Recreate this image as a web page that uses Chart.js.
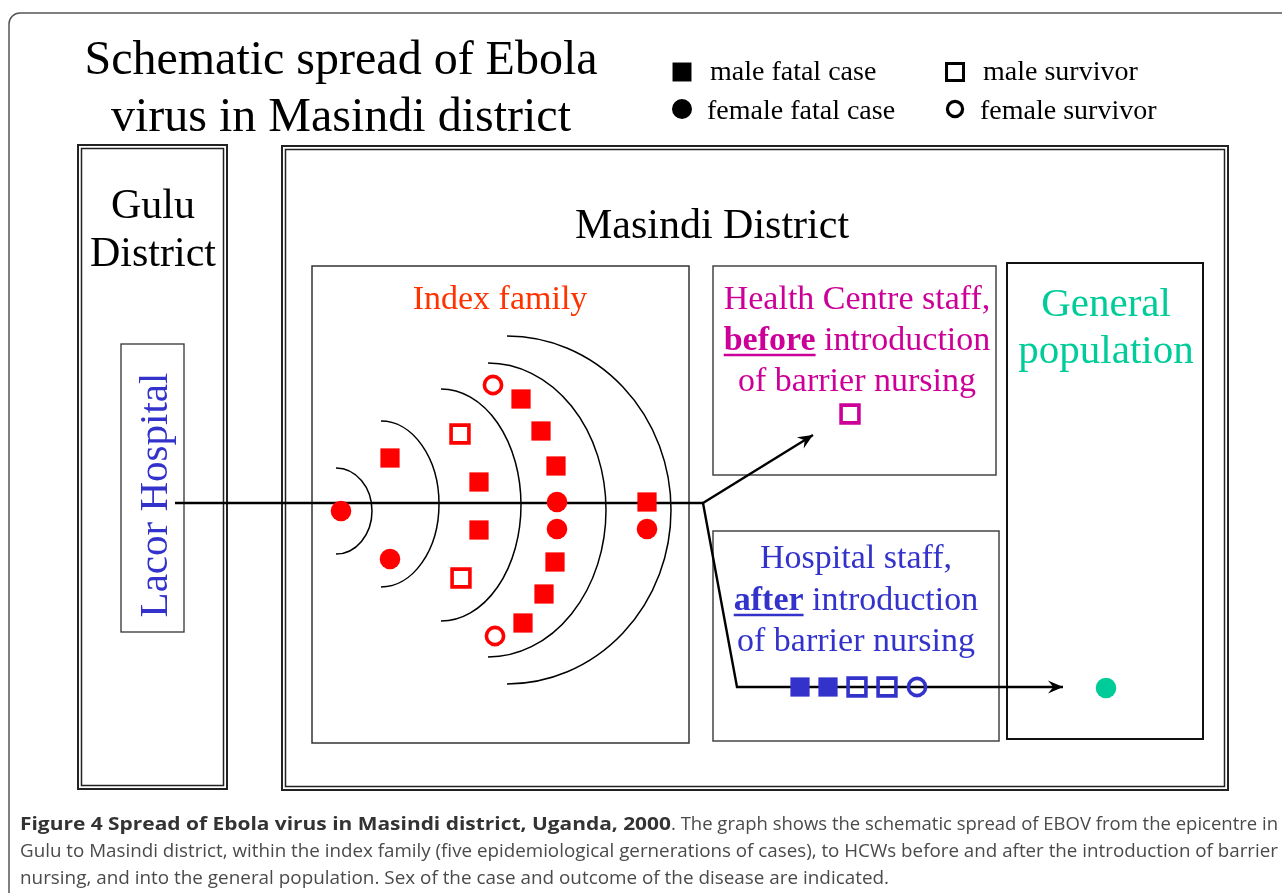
<!DOCTYPE html>
<html><head><meta charset="utf-8">
<script src="https://cdn.jsdelivr.net/npm/chart.js@4/dist/chart.umd.min.js"></script>
<style>html,body{margin:0;padding:0;background:#fff;overflow:hidden}canvas{display:block}</style>
</head><body>
<canvas id="c" width="1282" height="893" style="width:1282px;height:893px"></canvas>
<script>
// ---------- DATA (schematic diagram units) ----------
// Index family cases (five epidemiological generations)
const indexMaleFatal = [{x:390,y:458},{x:479,y:482},{x:479,y:530},{x:521,y:399},{x:541,y:431},{x:556,y:466},{x:555,y:562},{x:544,y:594},{x:523,y:623},{x:647,y:502}];
const indexFemaleFatal = [{x:341,y:511},{x:390,y:559},{x:557,y:502},{x:557,y:529},{x:647,y:529}];
const indexMaleSurvivor = [{x:460,y:434},{x:461,y:578}];
const indexFemaleSurvivor = [{x:493,y:385},{x:495,y:636}];
// Health centre staff before barrier nursing
const healthCentreMaleSurvivor = [{x:850,y:414}];
// Hospital staff after barrier nursing
const hospitalMaleFatal = [{x:800,y:687},{x:828,y:687}];
const hospitalMaleSurvivor = [{x:857,y:687},{x:887,y:687}];
const hospitalFemaleSurvivor = [{x:917,y:687}];
// General population
const generalFemaleFatal = [{x:1106,y:688}];
// Legend symbols
const legendLabels = ['male fatal case','female fatal case','male survivor','female survivor'];
const legendSymbols = [{x:682,y:72},{x:682,y:109},{x:955,y:72},{x:955,y:109}];
// Transmission paths
const pathGuluToFamily = [{x:175,y:503},{x:703,y:503}];
const pathToHealthCentre = [{x:703,y:503},{x:813,y:435}];
const pathToHospitalAndPopulation = [{x:703,y:503},{x:737,y:687},{x:1063,y:687}];
// Generation arcs: centre x, centre y, horizontal radius, vertical radius
const generationArcs = [[336,511,36,43],[381,504,58,83],[441,505,80,116],[488,510,118,147],[507,510,164,174]];

// ---------- STYLE ----------
const RED='#ff0000', MAG='#cc0099', BLUE='#3333cc', GREEN='#00cc99';
const SERIF='"Liberation Serif","Times New Roman",serif';

function filledSq(data,color,lbl){return {label:lbl,data,pointStyle:'rect',pointRadius:13.6,backgroundColor:color,borderColor:color,borderWidth:0,showLine:false};}
function filledCirc(data,color,lbl){return {label:lbl,data,pointStyle:'circle',pointRadius:10.3,backgroundColor:color,borderColor:color,borderWidth:0,showLine:false};}
function openSq(data,color,lbl){return {label:lbl,data,pointStyle:'rect',pointRadius:12.6,backgroundColor:'rgba(0,0,0,0)',borderColor:color,borderWidth:3.6,showLine:false};}
function openCirc(data,color,lbl){return {label:lbl,data,pointStyle:'circle',pointRadius:8.6,backgroundColor:'rgba(0,0,0,0)',borderColor:color,borderWidth:3.6,showLine:false};}
function path(data){return {type:'line',data,showLine:true,pointRadius:0,borderColor:'#000',borderWidth:2.6,tension:0,fill:false,order:10,isPath:true};}

const datasets=[
  filledSq(indexMaleFatal,RED,'index male fatal'),
  filledCirc(indexFemaleFatal,RED,'index female fatal'),
  openSq(indexMaleSurvivor,RED,'index male survivor'),
  openCirc(indexFemaleSurvivor,RED,'index female survivor'),
  openSq(healthCentreMaleSurvivor,MAG,'HC male survivor'),
  filledSq(hospitalMaleFatal,BLUE,'hospital male fatal'),
  openSq(hospitalMaleSurvivor,BLUE,'hospital male survivor'),
  openCirc(hospitalFemaleSurvivor,BLUE,'hospital female survivor'),
  filledCirc(generalFemaleFatal,GREEN,'general female fatal'),
  Object.assign(filledSq([legendSymbols[0]],'#000','legend1'),{pointRadius:13.4}),
  Object.assign(filledCirc([legendSymbols[1]],'#000','legend2'),{pointRadius:10}),
  Object.assign(openSq([legendSymbols[2]],'#000','legend3'),{pointRadius:12,borderWidth:3}),
  Object.assign(openCirc([legendSymbols[3]],'#000','legend4'),{pointRadius:7.6,borderWidth:3.2}),
  path(pathGuluToFamily),
  Object.assign(path(pathToHealthCentre),{arrow:true,borderWidth:2.4}),
  Object.assign(path(pathToHospitalAndPopulation),{arrow:true,borderWidth:2.4})
];

const diagramPlugin={
  id:'diagram',
  beforeDatasetsDraw(chart){
    const ctx=chart.ctx, X=v=>chart.scales.x.getPixelForValue(v), Y=v=>chart.scales.y.getPixelForValue(v);
    ctx.save();
    // outer rounded frame
    ctx.strokeStyle='#555'; ctx.lineWidth=1.5;
    ctx.beginPath(); ctx.roundRect(X(9),Y(13),X(1300)-X(9),Y(910)-Y(13),11); ctx.stroke();
    // title
    ctx.fillStyle='#000'; ctx.textAlign='center'; ctx.textBaseline='alphabetic';
    ctx.font='48px '+SERIF;
    ctx.fillText('Schematic spread of Ebola',X(341),Y(74));
    ctx.fillText('virus in Masindi district',X(341),Y(131));
    // legend labels
    ctx.font='28px '+SERIF; ctx.textAlign='left';
    ctx.fillText(legendLabels[0],X(710),Y(80));
    ctx.fillText(legendLabels[1],X(707),Y(119));
    ctx.fillText(legendLabels[2],X(983),Y(80));
    ctx.fillText(legendLabels[3],X(980),Y(119));
    // boxes
    const rect=(x1,y1,x2,y2,lw,col)=>{ctx.strokeStyle=col;ctx.lineWidth=lw;ctx.strokeRect(X(x1),Y(y1),X(x2)-X(x1),Y(y2)-Y(y1));};
    const dbl=(x1,y1,x2,y2)=>{rect(x1,y1,x2,y2,2,'#222');rect(x1+3.5,y1+3.5,x2-3.5,y2-3.5,1.5,'#222');};
    dbl(78,145,227,789);
    dbl(282,146,1228,790);
    rect(121,344,184,632,1.3,'#333');
    rect(312,266,689,743,1.5,'#333');
    rect(713,266,996,475,1.5,'#444');
    rect(713,531,999,741,1.5,'#444');
    rect(1007,263,1203,739,2,'#111');
    // district labels
    ctx.fillStyle='#000'; ctx.textAlign='center'; ctx.font='42px '+SERIF;
    ctx.fillText('Gulu',X(153),Y(218));
    ctx.fillText('District',X(153),Y(266));
    ctx.fillText('Masindi District',X(712),Y(238));
    // Lacor hospital (vertical)
    ctx.save(); ctx.translate(X(167),Y(495)); ctx.rotate(-Math.PI/2);
    ctx.fillStyle=BLUE; ctx.font='41px '+SERIF; ctx.textAlign='center'; ctx.fillText('Lacor Hospital',0,0); ctx.restore();
    // Index family
    ctx.fillStyle='#ff3300'; ctx.font='34px '+SERIF; ctx.fillText('Index family',X(500),Y(309));
    // General population
    ctx.fillStyle=GREEN; ctx.font='41px '+SERIF;
    ctx.fillText('General',X(1106),Y(316));
    ctx.fillText('population',X(1106),Y(363));
    // staff labels with bold underlined word
    const mixed=(bold,rest,cx,y,col)=>{
      ctx.font='bold 34px '+SERIF; const wb=ctx.measureText(bold).width;
      ctx.font='34px '+SERIF; const wr=ctx.measureText(rest).width;
      const x0=X(cx)-(wb+wr)/2;
      ctx.fillStyle=col; ctx.textAlign='left';
      ctx.font='bold 34px '+SERIF; ctx.fillText(bold,x0,Y(y));
      ctx.font='34px '+SERIF; ctx.fillText(rest,x0+wb,Y(y));
      ctx.strokeStyle=col; ctx.lineWidth=2.5; ctx.beginPath(); ctx.moveTo(x0,Y(y)+5); ctx.lineTo(x0+wb,Y(y)+5); ctx.stroke();
      ctx.textAlign='center';
    };
    ctx.textAlign='center'; ctx.font='34px '+SERIF; ctx.fillStyle=MAG;
    ctx.fillText('Health Centre staff,',X(857),Y(309));
    mixed('before',' introduction',857,350,MAG);
    ctx.font='34px '+SERIF; ctx.fillStyle=MAG; ctx.fillText('of barrier nursing',X(857),Y(391));
    ctx.font='34px '+SERIF; ctx.fillStyle=BLUE;
    ctx.fillText('Hospital staff,',X(856),Y(568));
    mixed('after',' introduction',856,610,BLUE);
    ctx.font='34px '+SERIF; ctx.fillStyle=BLUE; ctx.fillText('of barrier nursing',X(856),Y(651));
    // generation arcs
    ctx.strokeStyle='#000'; ctx.lineWidth=1.5;
    generationArcs.forEach(a=>{ctx.beginPath(); ctx.ellipse(X(a[0]),Y(a[1]),a[2],a[3],0,-Math.PI/2,Math.PI/2); ctx.stroke();});
    // caption
    drawCaption(ctx,X,Y);
    ctx.restore();
  },
  afterDatasetsDraw(chart){
    const ctx=chart.ctx;
    chart.data.datasets.forEach((ds,i)=>{
      if(!ds.arrow) return;
      const pts=chart.getDatasetMeta(i).data; const a=pts[pts.length-2], b=pts[pts.length-1];
      const ang=Math.atan2(b.y-a.y,b.x-a.x), L=15, W=6.5;
      ctx.save(); ctx.translate(b.x,b.y); ctx.rotate(ang); ctx.fillStyle='#000';
      ctx.beginPath(); ctx.moveTo(0,0); ctx.lineTo(-L,-W); ctx.lineTo(-L*0.65,0); ctx.lineTo(-L,W); ctx.closePath(); ctx.fill();
      ctx.restore();
    });
  }
};

function drawCaption(ctx,X,Y){
  const F='"Open Sans","DejaVu Sans",sans-serif';
  const regular='17.5px '+F, bold='bold 17.5px '+F;
  // each segment: font, text, colour, start x, end x
  const lines=[
    {y:830,segs:[[bold,'Figure 4 Spread of Ebola virus in Masindi district, Uganda, 2000','#333',20,671],[regular,'. The graph shows the schematic spread of EBOV from the epicentre in','#4a4a4a',671,1278]]},
    {y:857,segs:[[regular,'Gulu to Masindi district, within the index family (five epidemiological gernerations of cases), to HCWs before and after the introduction of barrier','#4a4a4a',20,1278]]},
    {y:884,segs:[[regular,'nursing, and into the general population. Sex of the case and outcome of the disease are indicated.','#4a4a4a',20,889]]}
  ];
  ctx.textAlign='left';
  lines.forEach(line=>{
    line.segs.forEach(s=>{
      ctx.font=s[0]; const w=ctx.measureText(s[1]).width; const sx=(X(s[4])-X(s[3]))/w;
      ctx.save(); ctx.translate(X(s[3]),Y(line.y)); ctx.scale(sx,1);
      ctx.fillStyle=s[2]; ctx.fillText(s[1],0,0); ctx.restore();
    });
  });
}

new Chart(document.getElementById('c'),{
  type:'scatter',
  data:{datasets},
  options:{
    responsive:false, animation:false, events:[],
    layout:{padding:0, autoPadding:false},
    scales:{x:{type:'linear',min:0,max:1282,display:false},y:{type:'linear',min:0,max:893,reverse:true,display:false}},
    plugins:{legend:{display:false},tooltip:{enabled:false}},
    elements:{line:{borderCapStyle:'butt'}}
  },
  plugins:[diagramPlugin]
});
</script>
</body></html>
